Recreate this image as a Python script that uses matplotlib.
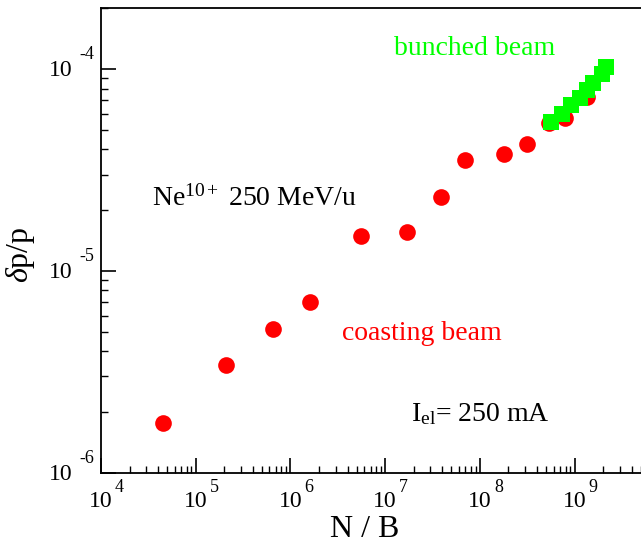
import numpy as np
import matplotlib
matplotlib.use('Agg')
import matplotlib.pyplot as plt
import matplotlib.transforms as mtrans
from matplotlib.ticker import LogLocator, NullFormatter

plt.rcParams['font.family'] = 'Liberation Serif'
plt.rcParams['mathtext.fontset'] = 'custom'
plt.rcParams['mathtext.rm'] = 'Liberation Serif'
plt.rcParams['mathtext.it'] = 'Liberation Serif:italic'

# coasting beam (red circles)
coast_nb = [4.55e4, 2.1e5, 6.5e5, 1.62e6, 5.57e6, 1.71e7, 3.92e7, 6.93e7,
            1.80e8, 3.13e8, 5.4e8, 7.9e8, 1.36e9]
coast_dp = [1.76e-6, 3.4e-6, 5.14e-6, 7.0e-6, 1.49e-5, 1.56e-5, 2.32e-5, 3.56e-5,
            3.78e-5, 4.25e-5, 5.4e-5, 5.72e-5, 7.27e-5]

# bunched beam (green squares)
bunch_nb = [5.6e8, 7.3e8, 9.2e8, 1.13e9, 1.35e9, 1.55e9, 1.94e9, 2.16e9]
bunch_dp = [5.47e-5, 6.0e-5, 6.6e-5, 7.2e-5, 7.9e-5, 8.5e-5, 9.4e-5, 1.02e-4]

xdecades = [4, 5, 6, 7, 8, 9]
ydecades = [-6, -5, -4]

W, H = 641, 546
fig = plt.figure(figsize=(W/100., H/100.), dpi=100)
ax = fig.add_axes([101./W, 73.3/H, 1 - 101./W, (472.7 - 8.3)/H])

ax.plot(coast_nb, coast_dp, 'o', color='#ff0000', markersize=12, markeredgewidth=0)
ax.plot(bunch_nb, bunch_dp, 's', color='#00ff00', markersize=12, markeredgewidth=0)

ax.set_xscale('log')
ax.set_yscale('log')
ax.set_xlim(1e4, 10**9.7)
ax.set_ylim(1e-6, 2e-4)

ax.spines['right'].set_visible(False)
for s in ['left', 'bottom', 'top']:
    ax.spines[s].set_linewidth(1.3)

ax.xaxis.set_major_locator(LogLocator(base=10, numticks=20))
ax.yaxis.set_major_locator(LogLocator(base=10, numticks=20))
ax.xaxis.set_minor_locator(LogLocator(base=10, subs=np.arange(2, 10), numticks=20))
ax.yaxis.set_minor_locator(LogLocator(base=10, subs=np.arange(2, 10), numticks=20))
ax.xaxis.set_major_formatter(NullFormatter())
ax.yaxis.set_major_formatter(NullFormatter())
ax.xaxis.set_minor_formatter(NullFormatter())
ax.yaxis.set_minor_formatter(NullFormatter())
ax.tick_params(which='both', direction='in', top=False, right=False)
ax.tick_params(which='major', length=11, width=1.2)
ax.tick_params(which='minor', length=5, width=1.0)

# tick labels written as "10" plus a raised exponent with a gap
def shifted(base, dx, dy):
    return base + mtrans.ScaledTranslation(dx/100., -dy/100., fig.dpi_scale_trans)

for e in xdecades:
    bt = ax.get_xaxis_transform()
    ax.text(10.**e, 0, '10', fontsize=17, ha='center', va='baseline',
            transform=shifted(bt, 0, 34), clip_on=False)
    ax.text(10.**e, 0, str(e), fontsize=13, ha='left', va='baseline',
            transform=shifted(bt, 14, 19), clip_on=False)

for e in ydecades:
    bt = ax.get_yaxis_transform()
    ax.text(0, 10.**e, '10', fontsize=17, ha='right', va='baseline',
            transform=shifted(bt, -28, 7), clip_on=False)
    ax.text(0, 10.**e, '-' + str(-e), fontsize=13, ha='left', va='baseline',
            transform=shifted(bt, -22, -10), clip_on=False)

fig.text(365./W, 1 - 537./H, 'N / B', fontsize=23, ha='center', va='baseline')
fig.text(37./W, 1 - 255./H, r'$\delta$p/p', fontsize=23, ha='right', va='center',
         rotation=90)

def label(x, y, s, c):
    fig.text(x/float(W), 1 - y/float(H), s, color=c, fontsize=20, ha='left', va='baseline')

label(394, 55, 'bunched beam', '#00ff00')
label(152, 206, r'Ne$^{10+}$ 250 MeV/u', 'black')
label(342, 340, 'coasting beam', '#ff0000')
label(411, 421, r'I$_{\mathrm{el}}$= 250 mA', 'black')

plt.savefig('out.png', dpi=100)
